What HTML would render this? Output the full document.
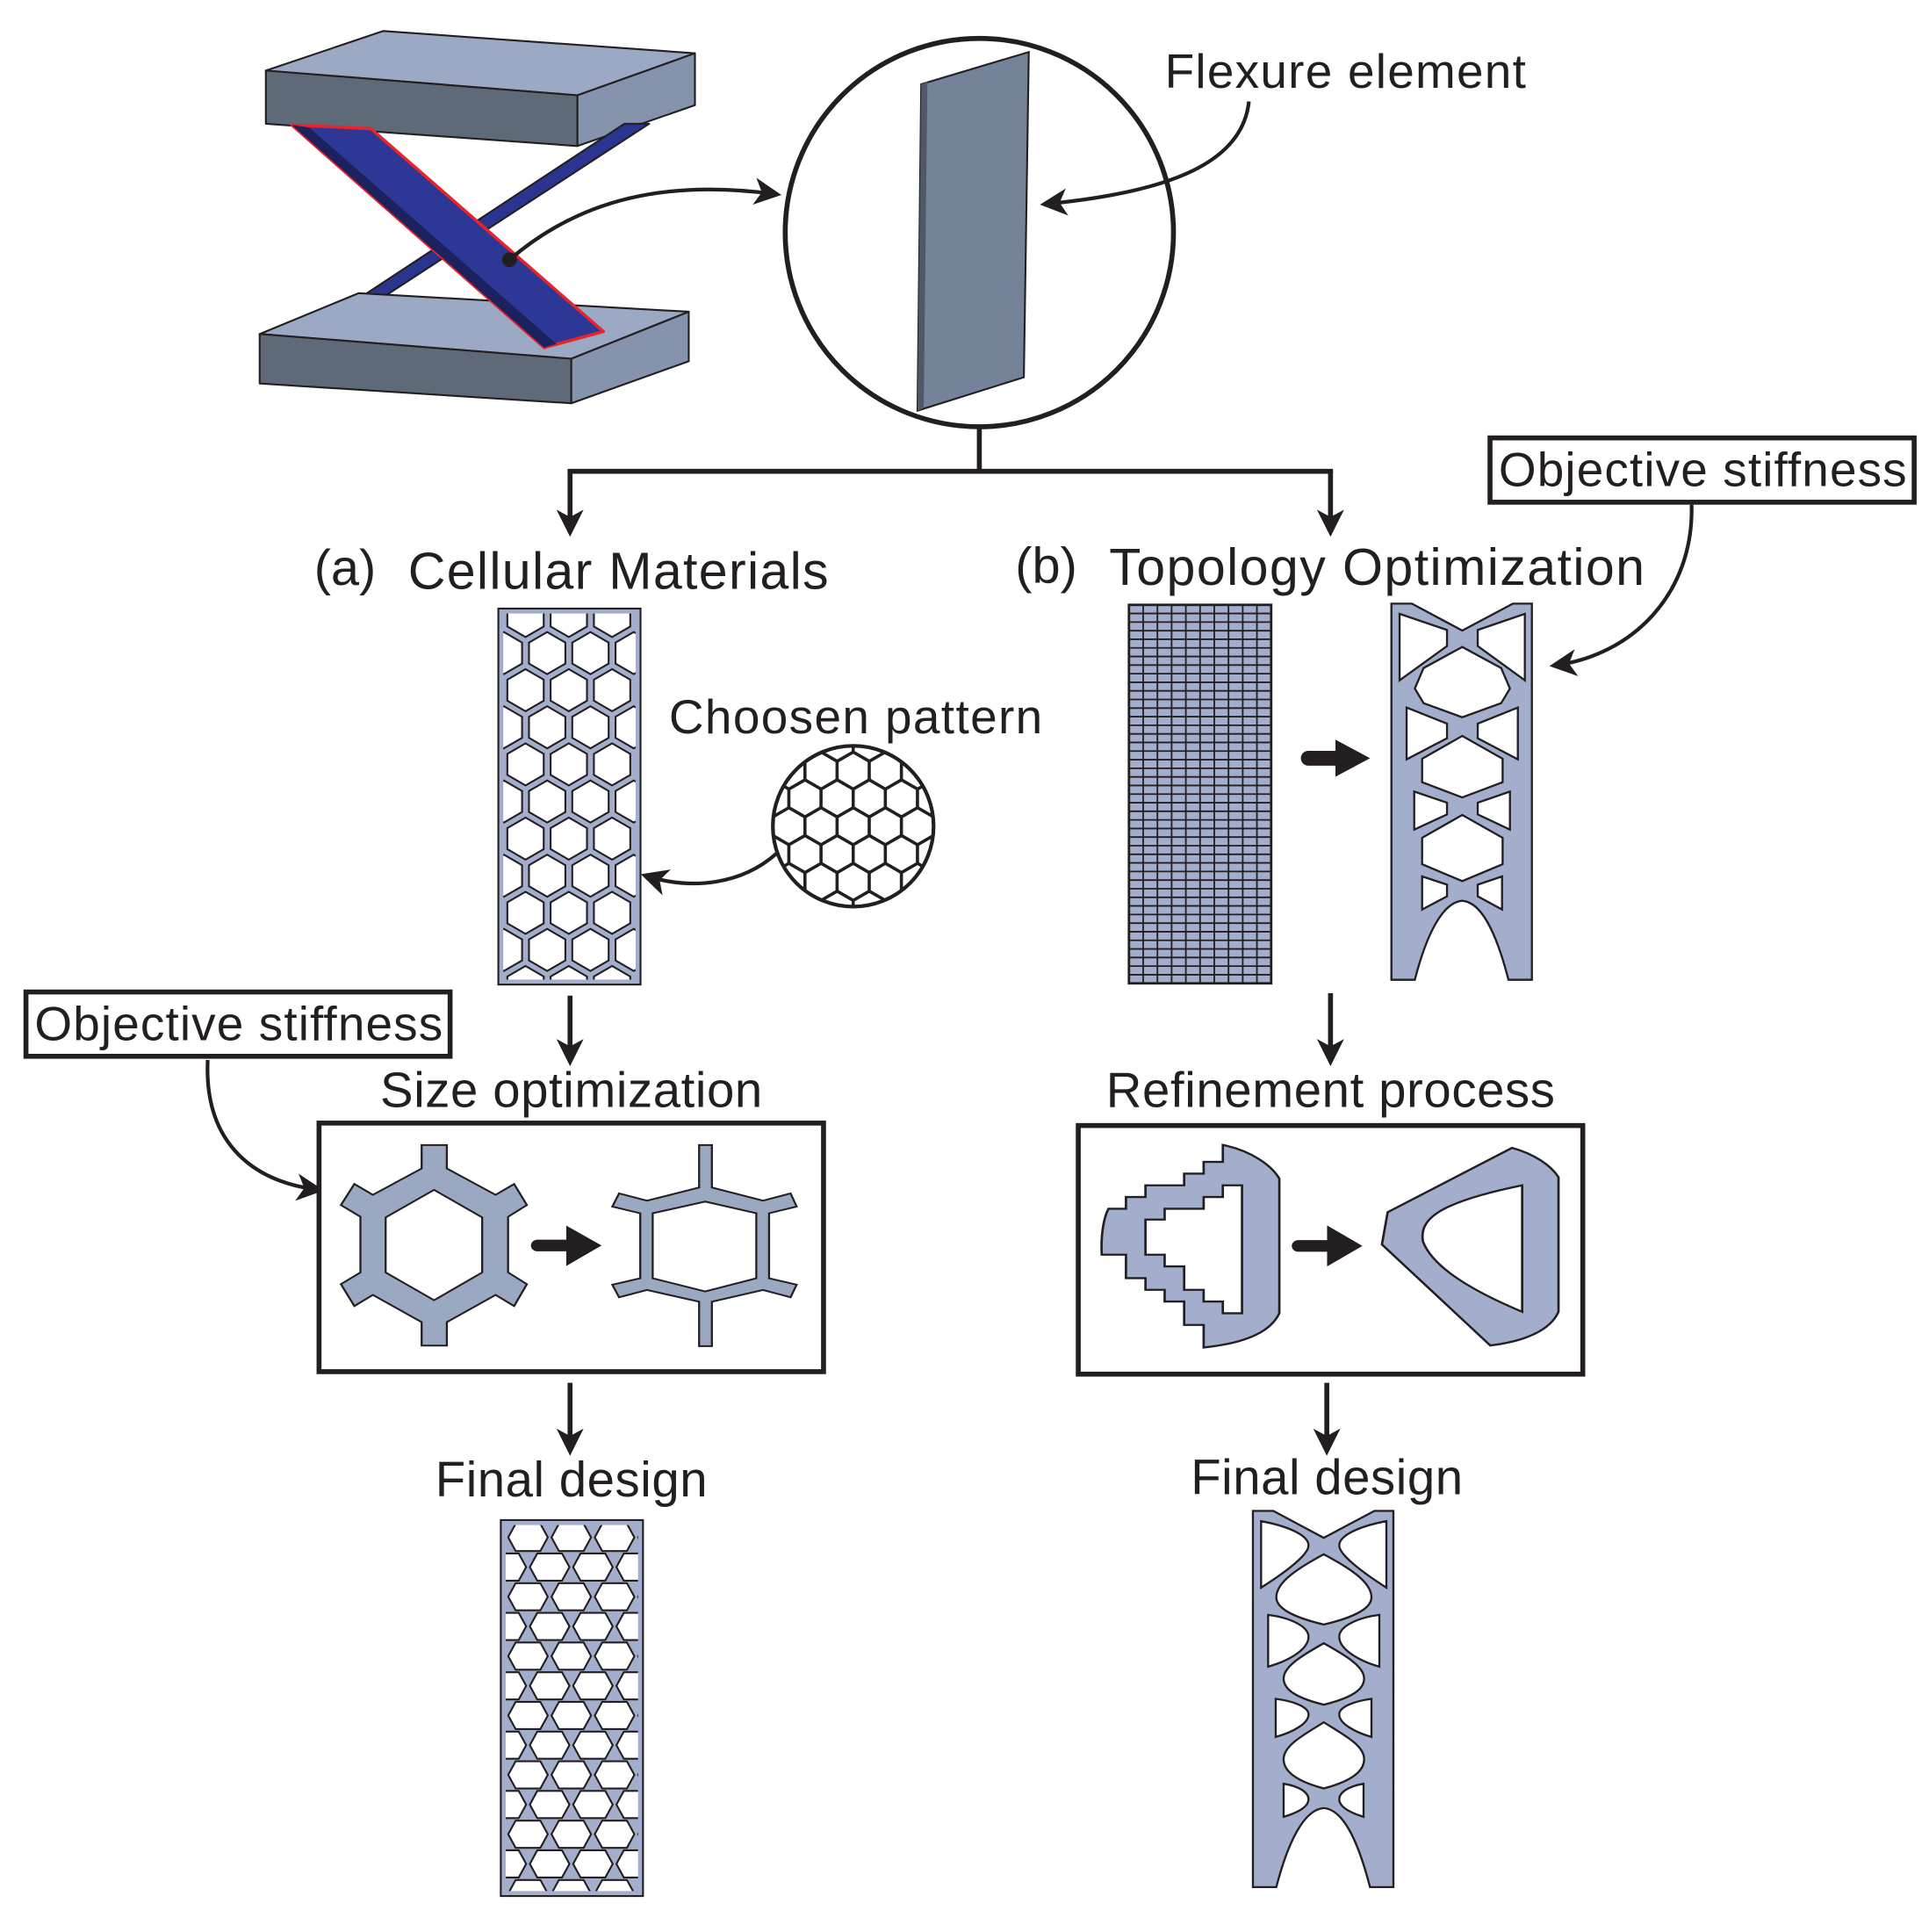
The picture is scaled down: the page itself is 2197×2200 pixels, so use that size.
<!DOCTYPE html>
<html><head><meta charset="utf-8"><style>
html,body{margin:0;padding:0;background:#fff}
svg{display:block}
text{font-family:"Liberation Sans",sans-serif;fill:#231f20}
</style></head><body>
<svg id="s" width="2197" height="2200" viewBox="0 0 1560 1562" xmlns="http://www.w3.org/2000/svg">
<defs>
<marker id="ah2" markerWidth="22" markerHeight="22" refX="18" refY="11" orient="auto" markerUnits="userSpaceOnUse" viewBox="0 0 22 22"><path d="M0,0 L22,11 L0,22 L6,11 Z" fill="#231f20"/></marker>
<clipPath id="c1"><rect x="407" y="496" width="107" height="296"/></clipPath>
<clipPath id="c2"><circle cx="690" cy="668" r="64"/></clipPath>
<clipPath id="c3"><rect x="409" y="1233" width="107" height="296"/></clipPath>
</defs>

<g stroke="#231f20" stroke-width="1.5" stroke-linejoin="round">
<polygon points="215,57 310,25 562,43 467,77" fill="#9ca9c4"/>
<polygon points="215,57 467,77 467,118 215,100" fill="#5e6a78"/>
<polygon points="467,77 562,43 562,85 467,118" fill="#8593ad"/>
<polygon points="280,248 505,100 525,100 298,248" fill="#2a3590"/>
<polygon points="210,270 290,237 557,252 462,290" fill="#9ca9c4"/>
<polygon points="210,270 462,290 462,326 210,310" fill="#5e6a78"/>
<polygon points="462,290 557,252 557,292 462,326" fill="#8593ad"/>
<polygon points="236,101 300,104 488,268 440,281" fill="#2d3896" stroke="#e8232a" stroke-width="2.5"/>
<polygon points="236,101 250,103 450,278 440,281" fill="#1c2160" stroke="none"/>
</g>
<circle cx="412" cy="210" r="6" fill="#231f20"/>
<path d="M412,210 C470,160 540,145 628,157" fill="none" stroke="#231f20" stroke-width="3" marker-end="url(#ah2)"/>

<circle cx="792" cy="188" r="157" fill="#fff" stroke="#231f20" stroke-width="4"/>
<polygon points="745,68 832,42 828,305 742,332" fill="#748399" stroke="#231f20" stroke-width="1.5"/>
<polygon points="745,68 750,66 747,330 742,332" fill="#4e5866"/>
<text x="942" y="71" font-size="39" textLength="292">Flexure element</text>
<path d="M1010,82 C1005,130 950,155 845,165" fill="none" stroke="#231f20" stroke-width="3" marker-end="url(#ah2)"/>

<g stroke="#231f20" stroke-width="4" fill="none">
<path d="M792,345 V381 M459,381 H1078"/>
<path d="M461,381 V430" marker-end="url(#ah2)"/>
<path d="M1076,381 V430" marker-end="url(#ah2)"/>
<path d="M461,805 V858" marker-end="url(#ah2)"/>
<path d="M1076,803 V858" marker-end="url(#ah2)"/>
<path d="M461,1118 V1173" marker-end="url(#ah2)"/>
<path d="M1073,1118 V1173" marker-end="url(#ah2)"/>
</g>
<text x="254" y="473" font-size="41">(a)</text>
<text x="330" y="476" font-size="42" textLength="340">Cellular Materials</text>
<text x="821" y="471" font-size="41">(b)</text>
<text x="897" y="473" font-size="42" textLength="433">Topology Optimization</text>

<rect x="403" y="492" width="115" height="304" fill="#a2aecb" stroke="#231f20" stroke-width="1.5"/>
<g id="hex1" clip-path="url(#c1)"></g>
<text x="541" y="593" font-size="39" textLength="302">Choosen pattern</text>
<circle cx="690" cy="668" r="65" fill="#fff"/>
<g id="hex2" clip-path="url(#c2)"></g>
<circle cx="690" cy="668" r="65" fill="none" stroke="#231f20" stroke-width="3"/>
<path d="M628,690 C600,715 560,720 522,708" fill="none" stroke="#231f20" stroke-width="3" marker-end="url(#ah2)"/>

<rect x="913" y="489" width="115" height="306" fill="#a2aecb" stroke="#231f20" stroke-width="2"/>
<g id="mesh" stroke="#231f20" stroke-width="1.3"></g>
<path d="M1058,613 H1080" stroke="#231f20" stroke-width="12" stroke-linecap="round"/>
<polygon points="1080,598 1108,613 1080,628" fill="#231f20"/>

<g transform="translate(1120.5,488) scale(0.2367)">
<path fill="#a2aecb" fill-rule="evenodd" stroke="#231f20" stroke-width="7"
d="M20,0 L90,0 L262,92 L435,0 L500,0 L500,1285 L420,1285 C380,1130 330,1020 262,1015 C195,1020 140,1130 100,1285 L20,1285 Z
M48,35 L210,90 L210,145 L48,262 Z M476,35 L315,90 L315,145 L476,262 Z
M262,148 L395,220 L425,290 L395,340 L262,388 L130,340 L100,290 L130,220 Z
M72,355 L210,410 L210,460 L72,532 Z M452,355 L315,410 L315,460 L452,532 Z
M262,452 L400,530 L400,610 L262,662 L125,610 L125,530 Z
M98,642 L210,680 L210,720 L98,772 Z M425,642 L315,680 L315,720 L425,772 Z
M262,722 L400,800 L400,890 L262,948 L125,890 L125,800 Z
M125,932 L210,960 L210,1000 L125,1045 Z M398,932 L315,960 L315,1000 L398,1045 Z"/>
</g>

<rect x="1205" y="354" width="343" height="52" fill="#fff" stroke="#231f20" stroke-width="4"/>
<text x="1212" y="393" font-size="39" textLength="330">Objective stiffness</text>
<path d="M1368,408 C1370,480 1320,530 1257,538" fill="none" stroke="#231f20" stroke-width="3" marker-end="url(#ah2)"/>
<rect x="21" y="802" width="343" height="52" fill="#fff" stroke="#231f20" stroke-width="4"/>
<text x="28" y="841" font-size="39" textLength="330">Objective stiffness</text>
<path d="M168,857 C165,920 200,955 258,962" fill="none" stroke="#231f20" stroke-width="3" marker-end="url(#ah2)"/>

<text x="462" y="895" font-size="40" text-anchor="middle" textLength="309">Size optimization</text>
<rect x="258" y="908" width="408" height="201" fill="#fff" stroke="#231f20" stroke-width="4"/>
<g transform="translate(255.3,882) scale(0.272,0.2367)" stroke="#231f20" stroke-width="6" fill="#9aa8c2" stroke-linejoin="miter">
<path fill-rule="evenodd" d="M315,185 L390,185 L390,265 L535,355 L590,318 L628,390 L572,430 L572,620 L628,660 L590,735 L535,697 L390,790 L390,870 L315,870 L315,790 L170,697 L115,735 L75,660 L133,620 L133,430 L75,390 L115,318 L170,355 L315,265 Z M352,338 L495,432 L495,620 L352,715 L208,620 L208,432 Z"/>
<path fill-rule="evenodd" d="M1140,185 L1178,185 L1178,330 L1330,375 L1412,350 L1430,395 L1348,418 L1348,640 L1430,662 L1412,705 L1330,680 L1178,720 L1178,872 L1140,872 L1140,720 L985,680 L902,705 L882,662 L965,640 L965,418 L882,395 L902,350 L985,375 L1140,330 Z M1158,378 L1310,418 L1310,640 L1158,685 L1002,640 L1002,418 Z"/>
<path d="M660,508 L745,508 L745,460 L850,528 L745,598 L745,548 L660,548 A20,20 0 0 1 660,508 Z" fill="#231f20" stroke="none"/>
</g>

<text x="1076" y="895" font-size="40" text-anchor="middle" textLength="363">Refinement process</text>
<rect x="872" y="910" width="408" height="201" fill="#fff" stroke="#231f20" stroke-width="4"/>
<g transform="translate(870.6,909.1) scale(0.272,0.2367)" stroke="#231f20" stroke-width="7" fill="#a2aecb" fill-rule="evenodd">
<path d="M435,70 C520,90 580,140 603,185 L603,645 C580,700 520,745 378,762 L378,685 L320,685 L320,605 L262,605 L262,565 L205,565 L205,525 L147,525 L147,445 L75,445 C72,380 80,320 95,288 L147,288 L147,248 L205,248 L205,208 L320,208 L320,168 L378,168 L378,128 L435,128 Z M435,208 L492,208 L492,645 L435,645 L435,605 L378,605 L378,565 L320,565 L320,485 L262,485 L262,445 L205,445 L205,325 L262,325 L262,288 L378,288 L378,248 L435,248 Z"/>
<path d="M925,300 L1295,80 C1360,100 1410,140 1433,180 L1433,640 C1410,700 1340,740 1230,755 L908,410 Z M1325,208 L1325,640 C1180,570 1060,490 1030,400 C1020,330 1060,270 1325,208 Z"/>
<path d="M660,395 L745,395 L745,345 L850,415 L745,485 L745,435 L660,435 A20,20 0 0 1 660,395 Z" fill="#231f20" stroke="none"/>
</g>

<text x="462" y="1210" font-size="40" text-anchor="middle" textLength="220">Final design</text>
<text x="1073" y="1208" font-size="40" text-anchor="middle" textLength="220">Final design</text>
<rect x="405" y="1229" width="115" height="304" fill="#a2aecb" stroke="#231f20" stroke-width="1.5"/>
<g id="hex3" clip-path="url(#c3)"></g>
<g transform="translate(1008.5,1221.6) scale(0.2367)">
<path fill="#a2aecb" fill-rule="evenodd" stroke="#231f20" stroke-width="7"
d="M20,0 L90,0 L262,92 L435,0 L500,0 L500,1285 L420,1285 C380,1130 330,1020 262,1015 C195,1020 140,1130 100,1285 L20,1285 Z
M48,35 C130,50 210,80 210,118 C210,150 130,210 48,262 Z M476,35 C395,50 315,80 315,118 C315,150 395,210 476,262 Z
M262,148 C340,190 425,240 425,295 C425,340 340,370 262,388 C185,370 100,340 100,295 C100,240 185,190 262,148 Z
M72,355 C150,365 210,395 210,430 C210,470 150,510 72,532 Z M452,355 C375,365 315,395 315,430 C315,470 375,510 452,532 Z
M262,452 C330,490 400,530 400,572 C400,620 330,645 262,662 C195,645 125,620 125,572 C125,530 195,490 262,452 Z
M98,642 C160,650 210,670 210,695 C210,725 160,755 98,772 Z M425,642 C365,650 315,670 315,695 C315,725 365,755 425,772 Z
M262,722 C330,765 400,800 400,848 C400,900 330,930 262,948 C195,930 125,900 125,848 C125,800 195,765 262,722 Z
M125,932 C175,940 210,960 210,985 C210,1010 175,1030 125,1045 Z M398,932 C350,940 315,960 315,985 C315,1010 350,1030 398,1045 Z"/>
</g>
</svg>
<script>
var NS="http://www.w3.org/2000/svg";
function hex(cx,cy,r,rot){var p=[];for(var i=0;i<6;i++){var a=(60*i+rot)*Math.PI/180;p.push((cx+r*Math.cos(a)).toFixed(1)+","+(cy+r*Math.sin(a)).toFixed(1));}return p.join(" ");}
function add(g,pts,fill,sw){var e=document.createElementNS(NS,"polygon");e.setAttribute("points",pts);e.setAttribute("fill",fill);e.setAttribute("stroke","#231f20");e.setAttribute("stroke-width",sw);g.appendChild(e);}
var g=document.getElementById("hex1");
for(var row=0;row<11;row++){var y=498+row*30;var off=row%2?17.5:0;for(var c=-1;c<4;c++){var x=425+c*35+off;add(g,hex(x,y,17,30),"#fff",1.5);}}
g=document.getElementById("hex2");
for(var row=-4;row<=4;row++){var y=668+row*22.5;var off=row%2?13:0;for(var c=-4;c<=4;c++){var x=690+c*26+off;add(g,hex(x,y,15,30),"#fff",2.5);}}
g=document.getElementById("hex3");
for(var row=0;row<13;row++){var y=1243+row*24;var off=row%2?17.5:0;for(var c=-1;c<4;c++){var x=427+c*35+off;
add(g,[(x-16)+","+y,(x-10)+","+(y-11)+"",(x+10)+","+(y-11),(x+16)+","+y,(x+10)+","+(y+11),(x-10)+","+(y+11)].join(" "),"#fff",1.5);}}
g=document.getElementById("mesh");
for(var i=1;i<10;i++){var l=document.createElementNS(NS,"line");var x=913+i*11.5;l.setAttribute("x1",x);l.setAttribute("x2",x);l.setAttribute("y1",489);l.setAttribute("y2",795);g.appendChild(l);}
for(var j=1;j<44;j++){var l=document.createElementNS(NS,"line");var y=489+j*306/44;l.setAttribute("x1",913);l.setAttribute("x2",1028);l.setAttribute("y1",y);l.setAttribute("y2",y);g.appendChild(l);}
</script>
</body></html>
